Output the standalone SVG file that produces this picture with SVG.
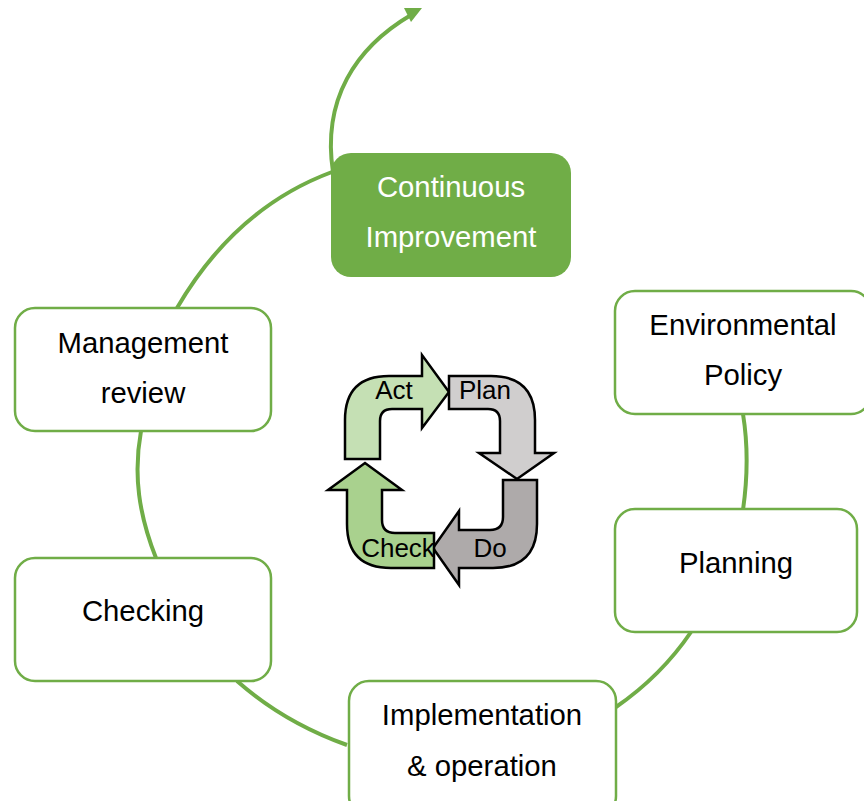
<svg xmlns="http://www.w3.org/2000/svg" width="864" height="801" viewBox="0 0 864 801">
<style>
.n{fill:#fff;stroke:#70ad47;stroke-width:2.5}
.c{fill:none;stroke:#70ad47;stroke-width:4}
text{font-family:"Liberation Sans",Arial,sans-serif;font-size:29.3px;text-anchor:middle;fill:#000}
.s{font-size:26px}
.w{fill:#fff}
.a{stroke:#000;stroke-width:2.5;stroke-linejoin:miter}
</style>
<rect width="864" height="801" fill="#fff"/>
<g id="connectors">
<path class="c" d="M332 172C262 198 212 248 177 308"/>
<path class="c" d="M156 558C139 515 133 475 141 431"/>
<path class="c" d="M347 745C305 730 270 710 237 681"/>
<path class="c" d="M691 632C672 660 648 685 616 707"/>
<path class="c" d="M743 414C748 445 748 475 743 510"/>
<path class="c" d="M333 172C322 100 355 48 411 15"/>
<path fill="#70ad47" d="M422 8L404 8L411 22Z"/>
</g>
<g id="node-continuous"><rect x="331" y="153" width="240" height="124" rx="20" fill="#70ad47"/><text class="w" x="451" y="197">Continuous</text><text class="w" x="451" y="247">Improvement</text></g>
<g id="node-policy"><rect class="n" x="615" y="291" width="256" height="123" rx="20"/><text x="743" y="335">Environmental</text><text x="743" y="385">Policy</text></g>
<g id="node-planning"><rect class="n" x="615" y="509" width="242" height="123" rx="20"/><text x="736" y="573">Planning</text></g>
<g id="node-implementation"><rect class="n" x="349" y="681" width="267" height="135" rx="20"/><text x="482" y="725">Implementation</text><text x="482" y="776">&amp; operation</text></g>
<g id="node-checking"><rect class="n" x="15" y="558" width="256" height="123" rx="20"/><text x="143" y="621">Checking</text></g>
<g id="node-review"><rect class="n" x="15" y="308" width="256" height="123" rx="20"/><text x="143" y="353">Management</text><text x="143" y="403">review</text></g>
<g id="node-act"><path class="a" fill="#c5e0b4" d="M345 459V420Q345 376 389 376H422V355L449 392L422 428V409H392Q380 409 380 421V459Z"/><text class="s" x="394" y="399">Act</text></g>
<g id="node-plan"><path class="a" fill="#d0cece" d="M449 376H491Q535 376 535 420V453H554L517 479L479 453H500V421Q500 409 488 409H449Z"/><text class="s" x="485" y="399">Plan</text></g>
<g id="node-do"><path class="a" fill="#aeaaaa" d="M537 480V524Q537 568 493 568H459V585L433 548L459 511V530H490Q503 530 503 517V480Z"/><text class="s" x="490" y="557">Do</text></g>
<g id="node-check"><path class="a" fill="#a9d18e" d="M434 568H391Q347 568 347 524V490H328L365 463L402 490H382V520Q382 533 395 533H434Z"/><text class="s" x="398" y="557">Check</text></g>
</svg>
